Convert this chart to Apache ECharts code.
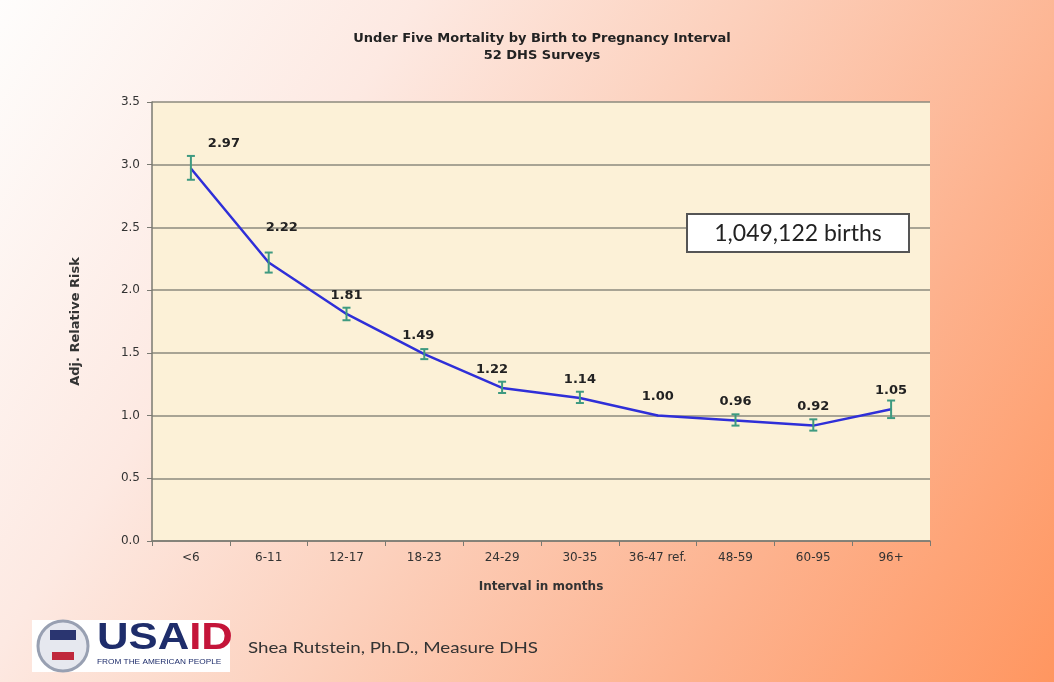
<!DOCTYPE html>
<html>
<head>
<meta charset="utf-8">
<script src="https://cdn.jsdelivr.net/npm/echarts@6/dist/echarts.min.js"></script>
<style>
  html, body { margin: 0; padding: 0; }
  #main { width: 1054px; height: 682px; }
</style>
</head>
<body>
<div id="main"></div>
<script>
// data
var categories = ['<6', '6-11', '12-17', '18-23', '24-29', '30-35', '36-47 ref.', '48-59', '60-95', '96+'];
var riskValues = [2.97, 2.22, 1.81, 1.49, 1.22, 1.14, 1.00, 0.96, 0.92, 1.05];
var lowerCI = [2.88, 2.14, 1.76, 1.45, 1.18, 1.10, null, 0.92, 0.88, 0.98];
var upperCI = [3.07, 2.30, 1.86, 1.53, 1.27, 1.19, null, 1.01, 0.97, 1.12];
var yTicks = [0, 0.5, 1.0, 1.5, 2.0, 2.5, 3.0, 3.5];

// some labels are nudged sideways in the original
var labelOffsets = { 0: [33, -6], 1: [13, -16], 3: [-6, 0], 4: [-10, 0] };

var font = 'DejaVu Sans, Liberation Sans, sans-serif';
var myChart = echarts.init(document.getElementById('main'));

var lineData = riskValues.map(function (v, i) {
    var item = { value: v };
    if (labelOffsets[i]) {
        item.label = { offset: labelOffsets[i] };
    }
    return item;
});

var errData = [];
for (var i = 0; i < categories.length; i++) {
    if (lowerCI[i] != null) errData.push([i, lowerCI[i], upperCI[i]]);
}

var option = {
    backgroundColor: new echarts.graphic.LinearGradient(0, 0, 1, 1, [
        { offset: 0, color: '#fefdfc' },
        { offset: 0.28, color: '#fde9e2' },
        { offset: 0.5, color: '#fcd0bc' },
        { offset: 0.75, color: '#fdb28e' },
        { offset: 1, color: '#ff9660' }
    ]),
    textStyle: { fontFamily: font },
    title: {
        text: 'Under Five Mortality by Birth to Pregnancy Interval\n52 DHS Surveys',
        left: 537,
        top: 25,
        textAlign: 'center',
        textStyle: { fontSize: 13, fontWeight: 'bold', color: '#222', lineHeight: 17, fontFamily: font }
    },
    grid: {
        left: 152,
        right: 124,
        top: 102,
        bottom: 141,
        show: true,
        backgroundColor: '#fcf1d7',
        borderWidth: 0
    },
    xAxis: {
        type: 'category',
        data: categories,
        name: 'Interval in months',
        nameLocation: 'middle',
        nameGap: 40,
        nameTextStyle: { fontSize: 12, fontWeight: 'bold', color: '#333' },
        axisLine: { lineStyle: { color: '#7a7a72', width: 1.5 } },
        axisTick: { show: true, length: 5, lineStyle: { color: '#7a7a72' } },
        axisLabel: { fontSize: 12, color: '#333', margin: 11, interval: 0 }
    },
    yAxis: {
        type: 'value',
        min: 0,
        max: 3.5,
        interval: 0.5,
        name: 'Adj. Relative Risk',
        nameLocation: 'middle',
        nameGap: 70,
        nameTextStyle: { fontSize: 13, fontWeight: 'bold', color: '#333' },
        axisLine: { show: true, lineStyle: { color: '#7a7a72', width: 1.5 } },
        axisTick: { show: true, length: 5, lineStyle: { color: '#7a7a72' } },
        axisLabel: {
            fontSize: 12,
            color: '#333',
            margin: 12,
            formatter: function (v) {
                return yTicks.indexOf(v) >= 0 ? v.toFixed(1) : '';
            }
        },
        splitLine: { show: true, lineStyle: { color: '#8c8a7e', width: 1.5 } }
    },
    series: [
        {
            name: 'Adj. Relative Risk',
            type: 'line',
            data: lineData,
            symbol: 'circle',
            symbolSize: 2,
            showSymbol: true,
            itemStyle: { color: '#2f2fd8' },
            lineStyle: { color: '#2f2fd8', width: 2.5 },
            z: 3,
            label: {
                show: true,
                position: 'top',
                distance: 11,
                fontSize: 13,
                fontWeight: 'bold',
                color: '#222',
                formatter: function (p) { return p.value.toFixed(2); }
            }
        },
        {
            name: 'CI',
            type: 'custom',
            data: errData,
            z: 4,
            renderItem: function (params, api) {
                var x = api.value(0);
                var lo = api.coord([x, api.value(1)]);
                var hi = api.coord([x, api.value(2)]);
                var w = 4;
                var st = { stroke: '#3e9a80', lineWidth: 2 };
                return {
                    type: 'group',
                    children: [
                        { type: 'line', shape: { x1: lo[0], y1: lo[1], x2: hi[0], y2: hi[1] }, style: st },
                        { type: 'line', shape: { x1: lo[0] - w, y1: lo[1], x2: lo[0] + w, y2: lo[1] }, style: st },
                        { type: 'line', shape: { x1: hi[0] - w, y1: hi[1], x2: hi[0] + w, y2: hi[1] }, style: st }
                    ]
                };
            }
        }
    ],
    graphic: [
        // births box
        {
            type: 'rect',
            x: 687,
            y: 214,
            shape: { width: 222, height: 38 },
            style: { fill: '#ffffff', stroke: '#555', lineWidth: 2 },
            z: 10
        },
        {
            type: 'text',
            x: 798,
            y: 234,
            style: {
                text: '1,049,122 births',
                font: '23px Lato, "Open Sans", sans-serif',
                fill: '#222',
                align: 'center',
                verticalAlign: 'middle'
            },
            z: 11
        },
        // USAID logo block
        {
            type: 'rect',
            x: 32,
            y: 620,
            shape: { width: 198, height: 52 },
            style: { fill: '#ffffff' },
            z: 10
        },
        {
            type: 'circle',
            shape: { cx: 63, cy: 646, r: 25 },
            style: { fill: '#e6e8ef', stroke: '#98a0b2', lineWidth: 3 },
            z: 11
        },
        {
            type: 'rect',
            x: 50,
            y: 630,
            shape: { width: 26, height: 10 },
            style: { fill: '#2a3570' },
            z: 12
        },
        {
            type: 'rect',
            x: 52,
            y: 652,
            shape: { width: 22, height: 8 },
            style: { fill: '#c0283c' },
            z: 12
        },
        {
            type: 'text',
            x: 97,
            y: 620,
            scaleX: 1.18,
            style: {
                text: '{a|USA}{b|ID}',
                rich: {
                    a: { font: 'bold 37px "Liberation Sans", Arial, sans-serif', fill: '#1e2d6b' },
                    b: { font: 'bold 37px "Liberation Sans", Arial, sans-serif', fill: '#c4153a' }
                }
            },
            z: 12
        },
        {
            type: 'text',
            x: 97,
            y: 659,
            scaleX: 1.18,
            style: { text: 'FROM THE AMERICAN PEOPLE', font: '7px "Liberation Sans", Arial, sans-serif', fill: '#1e2d6b' },
            z: 12
        },
        {
            type: 'text',
            x: 248,
            y: 648,
            scaleX: 1.25,
            style: {
                text: 'Shea Rutstein, Ph.D., Measure DHS',
                font: '15px Lato, "Open Sans", sans-serif',
                fill: '#333',
                verticalAlign: 'middle'
            },
            z: 10
        }
    ]
};

window.onresize = myChart.resize;
myChart.setOption(option);
</script>
</body>
</html>
